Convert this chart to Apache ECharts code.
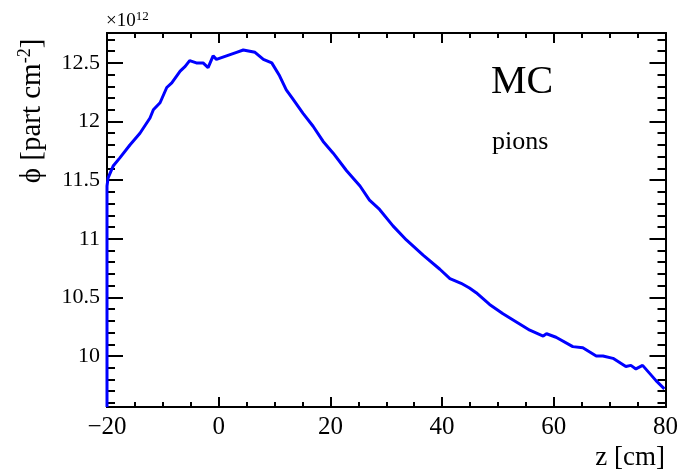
<!DOCTYPE html>
<html>
<head>
<meta charset="utf-8">
<script src="https://cdn.jsdelivr.net/npm/echarts@6/dist/echarts.min.js"></script>
<style>html,body{margin:0;padding:0;background:#fff}#c{width:681px;height:473px}</style>
</head>
<body>
<div id="c"></div>
<script>
// z position [cm]
var zValues = [-20, -20, -19.8, -18.9, -17.7, -15.9, -14.1, -12.3, -11.7, -10.5, -9.3, -8.4, -6.9, -6.0, -5.2, -4.0, -2.8, -1.9, -1.0, -0.4, 1.4, 3.2, 4.4, 6.5, 8.0, 9.5, 10.9, 12.1, 13.3, 15.1, 16.9, 18.7, 20.5, 22.9, 25.3, 27.0, 28.8, 31.2, 33.6, 36.6, 39.6, 41.4, 43.4, 44.9, 46.1, 48.5, 50.9, 53.3, 55.7, 58.1, 58.7, 60.4, 63.4, 65.2, 67.6, 68.8, 70.6, 72.9, 73.8, 74.7, 75.9, 78.3, 79.8];
// flux in units of 1e12 part/cm^2
var phiValues = [9.565, 11.45, 11.52, 11.62, 11.69, 11.80, 11.90, 12.03, 12.10, 12.16, 12.29, 12.33, 12.43, 12.47, 12.52, 12.50, 12.50, 12.46, 12.56, 12.53, 12.56, 12.59, 12.61, 12.59, 12.53, 12.50, 12.39, 12.27, 12.19, 12.07, 11.96, 11.83, 11.73, 11.58, 11.45, 11.33, 11.25, 11.11, 10.99, 10.86, 10.74, 10.66, 10.62, 10.58, 10.54, 10.44, 10.36, 10.29, 10.22, 10.17, 10.19, 10.16, 10.08, 10.07, 10.00, 10.00, 9.98, 9.91, 9.92, 9.89, 9.92, 9.79, 9.72];
var yMajorTicks = [10, 10.5, 11, 11.5, 12, 12.5];
var yMinorTicks = [9.6, 9.7, 9.8, 9.9, 10.1, 10.2, 10.3, 10.4, 10.6, 10.7, 10.8, 10.9, 11.1, 11.2, 11.3, 11.4, 11.6, 11.7, 11.8, 11.9, 12.1, 12.2, 12.3, 12.4, 12.6, 12.7];

var Y_MIN = 9.565, Y_MAX = 12.755;
var serif = '"Liberation Serif", "DejaVu Serif", serif';

var chart = echarts.init(document.getElementById('c'), null, {renderer: 'canvas'});
var data = zValues.map(function (z, i) { return [z, phiValues[i]]; });

function yAx(pos, ticks, len, labels) {
  return {
    type: 'value', position: pos, min: Y_MIN, max: Y_MAX,
    axisLine: {show: true, onZero: false, lineStyle: {color: '#000', width: 2}},
    axisTick: {show: true, inside: true, length: len, customValues: ticks, lineStyle: {color: '#000', width: 2}},
    axisLabel: labels ? {show: true, customValues: yMajorTicks, fontFamily: serif, fontSize: 22, color: '#000', margin: 7,
      formatter: function (v) { return String(Math.round(v * 10) / 10); }} : {show: false},
    splitLine: {show: false}
  };
}
function xAx(pos, labels) {
  return {
    type: 'value', position: pos, min: -20, max: 80, interval: 20,
    axisLine: {show: true, onZero: false, lineStyle: {color: '#000', width: 2}},
    axisTick: {show: true, inside: true, length: 10, lineStyle: {color: '#000', width: 2}},
    minorTick: {show: true, splitNumber: 4, length: 5, lineStyle: {color: '#000', width: 2}},
    axisLabel: labels ? {show: true, fontFamily: serif, fontSize: 25, color: '#000', margin: 8,
      formatter: function (v) { return v < 0 ? '\u2212' + (-v) : String(v); }} : {show: false},
    splitLine: {show: false}, minorSplitLine: {show: false}
  };
}

chart.setOption({
  animation: false,
  backgroundColor: '#fff',
  grid: {left: 107, right: 15, top: 33, bottom: 66, containLabel: false},
  xAxis: [xAx('bottom', true), xAx('top', false)],
  yAxis: [
    yAx('left', yMajorTicks, 16, true),
    yAx('left', yMinorTicks, 8, false),
    yAx('right', yMajorTicks, 16, false),
    yAx('right', yMinorTicks, 8, false)
  ],
  series: [{
    type: 'line', xAxisIndex: 0, yAxisIndex: 0, data: data,
    showSymbol: false, clip: true,
    lineStyle: {color: '#0000ff', width: 3}
  }],
  graphic: [
    {type: 'text', left: 106, top: 10, style: {
      text: '{a|\u00d710}{s|12}', rich: {
        a: {fontFamily: serif, fontSize: 19, fill: '#000'},
        s: {fontFamily: serif, fontSize: 13, fill: '#000', verticalAlign: 'top', padding: [0, 0, 9, 0]}
      }}},
    {type: 'text', x: 665, y: 471, style: {text: 'z [cm]', fontFamily: serif, fontSize: 27, fill: '#000', align: 'right', verticalAlign: 'bottom'}},
    {type: 'text', x: 32, y: 111, rotation: Math.PI / 2, style: {
      text: '{a|\u03d5 [part cm}{s|-2}{a|]}', align: 'center', verticalAlign: 'middle', rich: {
        a: {fontFamily: serif, fontSize: 29, fill: '#000'},
        s: {fontFamily: serif, fontSize: 18, fill: '#000', padding: [0, 0, 13, 0]}
      }}},
    {type: 'text', x: 491, y: 102, style: {text: 'MC', fontFamily: serif, fontSize: 40, fill: '#000', verticalAlign: 'bottom'}},
    {type: 'text', x: 492, y: 155, style: {text: 'pions', fontFamily: serif, fontSize: 26, fill: '#000', verticalAlign: 'bottom'}}
  ]
});
</script>
</body>
</html>
